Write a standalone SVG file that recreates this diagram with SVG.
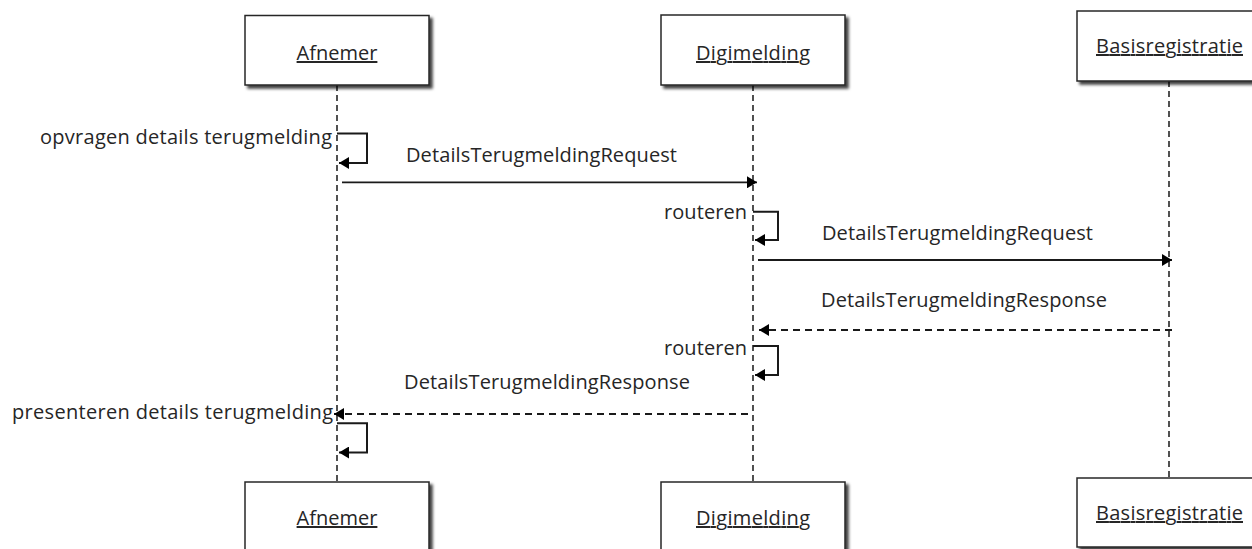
<svg xmlns="http://www.w3.org/2000/svg" width="1252" height="549" viewBox="0 0 1252 549">
  <style>
    .box { fill: #ffffff; stroke: #262626; stroke-width: 1.5; filter: url(#shadow); }
    .name { font-family: "Open Sans", "Liberation Sans", sans-serif; font-size: 20px; fill: #262626; text-anchor: middle; text-decoration: underline; }
    .life { stroke: #262626; stroke-width: 1.6; stroke-dasharray: 6 4; fill: none; }
    .msg { stroke: #1a1a1a; stroke-width: 1.8; fill: none; marker-end: url(#arrow); }
    .ret { stroke: #1a1a1a; stroke-width: 1.8; fill: none; stroke-dasharray: 7 5; marker-end: url(#arrow); }
    .self { stroke: #1a1a1a; stroke-width: 2; fill: none; marker-end: url(#arrow); }
    .lbl { font-family: "Open Sans", "Liberation Sans", sans-serif; font-size: 20px; fill: #262626; }
  </style>
  <defs>
    <filter id="shadow" x="-10%" y="-10%" width="125%" height="140%">
      <feDropShadow dx="3" dy="3" stdDeviation="1.5" flood-color="#000000" flood-opacity="0.75"/>
    </filter>
    <marker id="arrow" viewBox="0 0 10 12" refX="10" refY="6" markerWidth="10" markerHeight="12" markerUnits="userSpaceOnUse" orient="auto">
      <path d="M0,0 L10,6 L0,12 z" fill="#000000"/>
    </marker>
  </defs>
  <rect width="1252" height="549" fill="#ffffff"/>

  <g id="afnemer">
    <line class="life" x1="337" y1="85" x2="337" y2="482"/>
    <rect class="box" x="245" y="15.5" width="184" height="69.5"/>
    <text class="name" x="337" y="60">Afnemer</text>
    <rect class="box" x="245" y="482" width="184" height="70"/>
    <text class="name" x="337" y="525">Afnemer</text>
  </g>

  <g id="digimelding">
    <line class="life" x1="753" y1="85" x2="753" y2="482"/>
    <rect class="box" x="661" y="15" width="184" height="70"/>
    <text class="name" x="753" y="60" textLength="114">Digimelding</text>
    <rect class="box" x="661" y="482" width="184" height="70"/>
    <text class="name" x="753" y="525" textLength="114">Digimelding</text>
  </g>

  <g id="basisregistratie">
    <line class="life" x1="1169" y1="81" x2="1169" y2="478"/>
    <rect class="box" x="1077" y="11" width="184" height="70"/>
    <text class="name" x="1169.5" y="53" textLength="147">Basisregistratie</text>
    <rect class="box" x="1077" y="478" width="184" height="69"/>
    <text class="name" x="1169.5" y="520" textLength="147">Basisregistratie</text>
  </g>

  <g id="connectors">
    <text class="lbl" x="40" y="143.5" textLength="292">opvragen details terugmelding</text>
    <path class="self" d="M337,133.5 H367 V163 H339"/>

    <text class="lbl" x="406" y="161.5" textLength="271">DetailsTerugmeldingRequest</text>
    <path class="msg" d="M342,182.3 H757"/>

    <text class="lbl" x="664" y="218.5" textLength="83">routeren</text>
    <path class="self" d="M753,211.7 H778 V240 H755"/>

    <text class="lbl" x="822" y="240" textLength="271">DetailsTerugmeldingRequest</text>
    <path class="msg" d="M758,260 H1172"/>

    <text class="lbl" x="821" y="307" textLength="286">DetailsTerugmeldingResponse</text>
    <path class="ret" d="M1172,330 H759"/>

    <text class="lbl" x="664" y="355" textLength="83">routeren</text>
    <path class="self" d="M753,346 H778 V375 H755"/>

    <text class="lbl" x="404" y="389" textLength="286">DetailsTerugmeldingResponse</text>
    <path class="ret" d="M748,414 H334"/>

    <text class="lbl" x="12" y="419" textLength="321">presenteren details terugmelding</text>
    <path class="self" d="M337,423.3 H367 V452.5 H339"/>
  </g>
</svg>
